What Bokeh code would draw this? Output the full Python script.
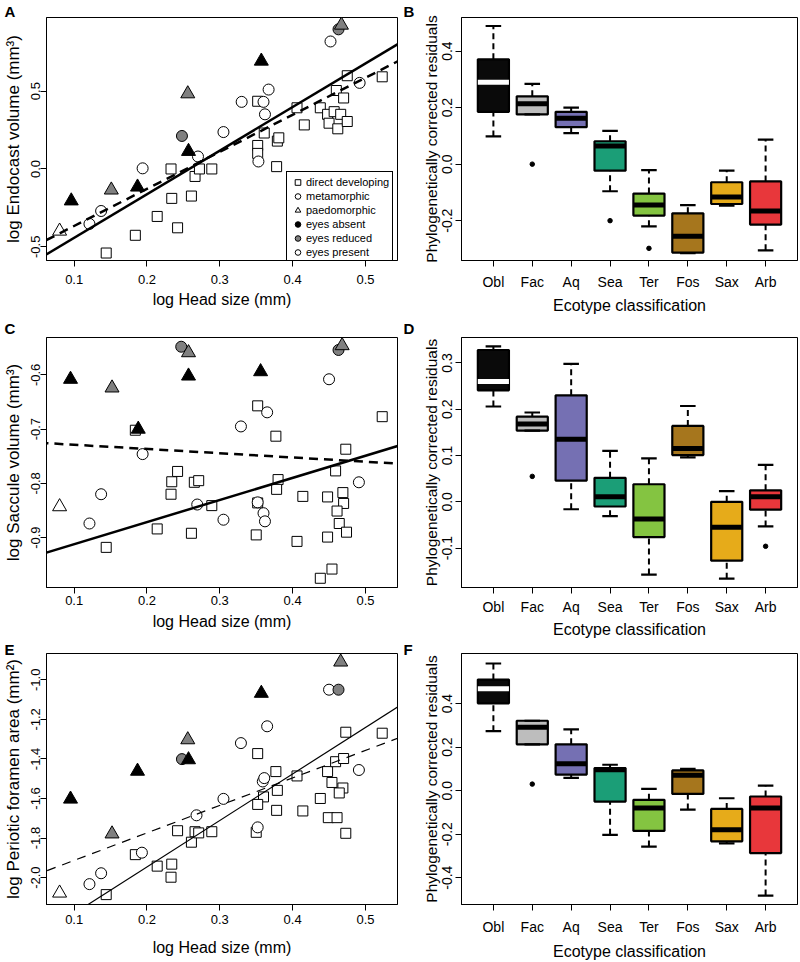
from bokeh.plotting import figure
from bokeh.models import (ColumnDataSource, Range1d, FactorRange, FixedTicker,
                          NumeralTickFormatter, Slope, Legend, LegendItem, Title)
from bokeh.layouts import column, row
from bokeh.transform import dodge
from bokeh.embed import file_html
from bokeh.resources import INLINE

FONT = "Liberation Sans"
NAN = float("nan")

# ---------------- shared head-size axis ----------------
HEAD_RANGE = (0.062, 0.544)
HEAD_TICKS = [0.1, 0.2, 0.3, 0.4, 0.5]
EYE_COLORS = {"absent": "black", "reduced": "#808080", "present": "white"}

# ---------------- Panel A: endocast volume ----------------
A_dd_x = [0.144, 0.184, 0.214, 0.234, 0.242, 0.233, 0.261, 0.266, 0.272, 0.289,
          0.352, 0.352, 0.352, 0.361, 0.379, 0.381, 0.378, 0.406, 0.416, 0.438,
          0.448, 0.457, 0.450, 0.466, 0.462, 0.475, 0.460, 0.470, 0.475, 0.523]
A_dd_y = [-0.540, -0.426, -0.305, -0.189, -0.378, 0.000, -0.174, -0.048, 0.000, 0.000,
          0.435, 0.151, 0.100, 0.231, 0.179, 0.200, 0.015, 0.393, 0.283, 0.393,
          0.351, 0.368, 0.294, 0.351, 0.258, 0.305, 0.504, 0.456, 0.599, 0.592]
A_met_x = [0.121, 0.137, 0.194, 0.270, 0.305, 0.330, 0.353, 0.360, 0.362, 0.367, 0.452, 0.492, 0.248, 0.463]
A_met_y = [-0.353, -0.270, 0.004, 0.080, 0.237, 0.431, 0.048, 0.431, 0.351, 0.510, 0.819, 0.553, 0.212, 0.897]
A_met_eye = ["present"] * 12 + ["reduced"] * 2
A_pae_x = [0.080, 0.096, 0.151, 0.187, 0.256, 0.257, 0.357, 0.467]
A_pae_y = [-0.399, -0.205, -0.135, -0.116, 0.483, 0.113, 0.693, 0.924]
A_pae_eye = ["present", "absent", "reduced", "absent", "reduced", "absent", "absent", "reduced"]
A_solid = (2.80, -0.722)
A_dashed = (2.38, -0.604)

# ---------------- Panel C: saccule volume ----------------
C_dd_x = [0.144, 0.184, 0.214, 0.233, 0.234, 0.242, 0.261, 0.265, 0.271, 0.289,
          0.352, 0.352, 0.350, 0.377, 0.380, 0.378, 0.414, 0.406, 0.459, 0.473,
          0.469, 0.470, 0.461, 0.464, 0.474, 0.448, 0.448, 0.438, 0.454, 0.523]
C_dd_y = [-0.918, -0.702, -0.884, -0.820, -0.797, -0.778, -0.892, -0.798, -0.795, -0.841,
          -0.657, -0.836, -0.895, -0.713, -0.793, -0.811, -0.824, -0.907, -0.777, -0.737,
          -0.817, -0.837, -0.851, -0.874, -0.890, -0.899, -0.825, -0.975, -0.958, -0.677]
C_met_x = [0.121, 0.137, 0.194, 0.269, 0.305, 0.329, 0.352, 0.360, 0.362, 0.365, 0.450, 0.491, 0.247, 0.463]
C_met_y = [-0.874, -0.820, -0.746, -0.839, -0.867, -0.695, -0.835, -0.855, -0.870, -0.669, -0.608, -0.798, -0.548, -0.554]
C_met_eye = ["present"] * 12 + ["reduced"] * 2
C_pae_x = [0.080, 0.095, 0.152, 0.188, 0.257, 0.257, 0.356, 0.468]
C_pae_y = [-0.843, -0.608, -0.624, -0.700, -0.559, -0.602, -0.594, -0.546]
C_pae_eye = ["present", "absent", "reduced", "absent", "reduced", "absent", "absent", "reduced"]
C_solid = (0.408, -0.953)
C_dashed = (-0.078, -0.721)

# ---------------- Panel E: periotic foramen area ----------------
E_dd_x = [0.144, 0.184, 0.214, 0.234, 0.233, 0.242, 0.261, 0.266, 0.271, 0.289,
          0.352, 0.377, 0.360, 0.352, 0.379, 0.378, 0.350, 0.406, 0.414, 0.438,
          0.448, 0.459, 0.470, 0.454, 0.469, 0.464, 0.449, 0.461, 0.473, 0.473, 0.523]
E_dd_y = [-2.086, -1.884, -1.942, -1.932, -1.998, -1.763, -1.821, -1.768, -1.774, -1.768,
          -1.373, -1.464, -1.592, -1.630, -1.559, -1.660, -1.771, -1.486, -1.663, -1.600,
          -1.464, -1.414, -1.398, -1.519, -1.547, -1.572, -1.697, -1.697, -1.776, -1.265, -1.270]
E_met_x = [0.121, 0.137, 0.193, 0.268, 0.305, 0.329, 0.352, 0.359, 0.361, 0.365, 0.450, 0.491, 0.248, 0.463]
E_met_y = [-2.033, -1.978, -1.874, -1.685, -1.602, -1.320, -1.746, -1.514, -1.497, -1.235, -1.050, -1.456, -1.401, -1.050]
E_met_eye = ["present"] * 12 + ["reduced"] * 2
E_pae_x = [0.080, 0.095, 0.152, 0.187, 0.256, 0.257, 0.357, 0.466]
E_pae_y = [-2.078, -1.603, -1.779, -1.462, -1.303, -1.404, -1.068, -0.910]
E_pae_eye = ["present", "absent", "reduced", "absent", "reduced", "absent", "absent", "reduced"]
E_solid = (2.35, -2.416)
E_dashed = (1.39, -2.052)

# ---------------- Box plots ----------------
ECOTYPES = ["Obl", "Fac", "Aq", "Sea", "Ter", "Fos", "Sax", "Arb"]
ECO_COLORS = ["#0a0a0a", "#bdbdbd", "#7570b3", "#1b9e77", "#84c441", "#a6761d", "#e6ab1a", "#e8373b"]
MEDIAN_COLORS = ["white"] + ["black"] * 7

B_low = [0.098, 0.176, 0.110, -0.096, -0.220, -0.315, -0.147, -0.305]
B_q1 = [0.185, 0.176, 0.131, -0.023, -0.182, -0.313, -0.141, -0.214]
B_med = [0.290, 0.214, 0.162, 0.064, -0.145, -0.255, -0.116, -0.166]
B_q3 = [0.371, 0.240, 0.185, 0.081, -0.104, -0.174, -0.064, -0.061]
B_high = [0.489, 0.284, 0.200, 0.118, -0.021, -0.145, -0.023, 0.087]
B_out_cat = ["Fac", "Sea", "Ter"]
B_out_val = [0.000, -0.200, -0.298]

D_low = [0.206, 0.154, -0.016, -0.031, -0.157, 0.096, -0.166, -0.053]
D_q1 = [0.241, 0.154, 0.046, -0.010, -0.076, 0.101, -0.127, -0.017]
D_med = [0.260, 0.168, 0.135, 0.011, -0.037, 0.115, -0.055, 0.011]
D_q3 = [0.328, 0.184, 0.230, 0.052, 0.038, 0.164, 0.000, 0.025]
D_high = [0.336, 0.193, 0.298, 0.110, 0.094, 0.207, 0.023, 0.080]
D_out_cat = ["Fac", "Arb"]
D_out_val = [0.055, -0.096]

F_low = [0.273, 0.213, 0.059, -0.203, -0.257, -0.087, -0.242, -0.482]
F_q1 = [0.401, 0.213, 0.074, -0.050, -0.185, -0.015, -0.233, -0.287]
F_med = [0.468, 0.291, 0.123, 0.096, -0.080, 0.071, -0.180, -0.080]
F_q3 = [0.510, 0.321, 0.213, 0.104, -0.042, 0.093, -0.084, -0.027]
F_high = [0.584, 0.321, 0.281, 0.119, 0.008, 0.100, -0.035, 0.023]
F_out_cat = ["Fac"]
F_out_val = [0.030]


def style(p, xt_size, yt_size, xl_size, yl_size, x_sd, xl_sd, y_sd, yl_sd):
    p.xgrid.visible = False
    p.ygrid.visible = False
    p.outline_line_color = "black"
    p.outline_line_alpha = 1.0
    p.outline_line_width = 1
    p.background_fill_color = "white"
    p.border_fill_color = "white"
    for ax in p.axis:
        ax.axis_line_color = "black"
        ax.major_tick_line_color = "black"
        ax.minor_tick_line_color = None
        ax.major_tick_in = 0
        ax.major_tick_out = 6
        ax.major_label_text_font = FONT
        ax.axis_label_text_font = FONT
        ax.axis_label_text_font_style = "normal"
        ax.axis_label_text_color = "black"
        ax.major_label_text_color = "black"
    p.xaxis.major_label_text_font_size = xt_size
    p.yaxis.major_label_text_font_size = yt_size
    p.xaxis.axis_label_text_font_size = xl_size
    p.yaxis.axis_label_text_font_size = yl_size
    p.xaxis.major_label_standoff = x_sd
    p.xaxis.axis_label_standoff = xl_sd
    p.yaxis.major_label_standoff = y_sd
    p.yaxis.axis_label_standoff = yl_sd
    p.yaxis.major_label_orientation = "vertical"


def set_letter(p, letter, offset, standoff):
    p.title = Title(text=letter, align="left", offset=offset, standoff=standoff,
                    vertical_align="bottom", text_font=FONT, text_font_size="15px",
                    text_font_style="bold", text_color="black")


def scatter_panel(H, top, bottom, yr, yt, ylab, dd_x, dd_y, met_x, met_y, met_eye,
                  pae_x, pae_y, pae_eye, solid, dashed, lw, dash, letter, letter_sd,
                  x_sd, xl_sd, legend=False):
    p = figure(width=400, height=H, x_range=Range1d(*HEAD_RANGE), y_range=Range1d(*yr),
               output_backend="svg", toolbar_location=None,
               min_border_left=45, min_border_right=3, min_border_top=top,
               min_border_bottom=bottom)
    set_letter(p, letter, -42, letter_sd)
    p.xaxis.axis_label = "log Head size (mm)"
    p.yaxis.axis_label = ylab
    p.xaxis.ticker = FixedTicker(ticks=HEAD_TICKS)
    p.yaxis.ticker = FixedTicker(ticks=yt)
    p.xaxis.formatter = NumeralTickFormatter(format="0.0")
    p.yaxis.formatter = NumeralTickFormatter(format="0.0")
    style(p, "13px", "13px", "16px", "17px", x_sd, xl_sd, 0, 6)

    p.add_layout(Slope(gradient=solid[0], y_intercept=solid[1], line_color="black",
                       line_width=lw))
    p.add_layout(Slope(gradient=dashed[0], y_intercept=dashed[1], line_color="black",
                       line_width=lw, line_dash=dash))

    p.scatter(x=dd_x, y=dd_y, marker="square", size=10, fill_color="white",
              line_color="black", line_width=1)
    msrc = ColumnDataSource(dict(x=met_x, y=met_y, fc=[EYE_COLORS[e] for e in met_eye]))
    p.scatter(x="x", y="y", source=msrc, marker="circle", size=11, fill_color="fc",
              line_color="black", line_width=1)
    psrc = ColumnDataSource(dict(x=pae_x, y=pae_y, fc=[EYE_COLORS[e] for e in pae_eye]))
    p.scatter(x="x", y="y", source=psrc, marker="triangle", size=14, fill_color="fc",
              line_color="black", line_width=1)

    if legend:
        shapes = [("direct developing", "square", "white"),
                  ("metamorphic", "circle", "white"),
                  ("paedomorphic", "triangle", "white"),
                  ("eyes absent", "circle", EYE_COLORS["absent"]),
                  ("eyes reduced", "circle", EYE_COLORS["reduced"]),
                  ("eyes present", "circle", EYE_COLORS["present"])]
        items = []
        for lab, mk, fc in shapes:
            r = p.scatter(x=[NAN], y=[NAN], marker=mk, size=10, fill_color=fc,
                          line_color="black", line_width=1)
            items.append(LegendItem(label=lab, renderers=[r]))
        leg = Legend(items=items, location=(240, -3), label_text_font=FONT,
                     label_text_font_size="11px", label_text_color="black",
                     glyph_width=15, glyph_height=14, label_height=14,
                     label_standoff=1, padding=3, spacing=0, margin=0,
                     border_line_color="black", border_line_width=1,
                     border_line_alpha=1.0, background_fill_color="white",
                     background_fill_alpha=1.0)
        p.add_layout(leg)
    return p


def box_panel(H, top, bottom, yr, yt, low, q1, med, q3, high, out_cat, out_val, letter,
              letter_sd, x_sd, xl_sd):
    p = figure(width=400, height=H, x_range=FactorRange(factors=ECOTYPES, range_padding=0.08),
               y_range=Range1d(*yr), output_backend="svg", toolbar_location=None,
               min_border_left=61, min_border_right=3, min_border_top=top,
               min_border_bottom=bottom)
    set_letter(p, letter, -58, letter_sd)
    p.xaxis.axis_label = "Ecotype classification"
    p.yaxis.axis_label = "Phylogenetically corrected residuals"
    p.yaxis.ticker = FixedTicker(ticks=yt)
    p.yaxis.formatter = NumeralTickFormatter(format="0.0")
    style(p, "14px", "14px", "16px", "15.5px", x_sd, xl_sd, 3, 0)

    src = ColumnDataSource(dict(cat=ECOTYPES, low=low, q1=q1, med=med, q3=q3, high=high,
                                color=ECO_COLORS, mc=MEDIAN_COLORS))
    p.segment(x0="cat", y0="q3", x1="cat", y1="high", source=src, line_color="black",
              line_width=2, line_dash="6 4")
    p.segment(x0="cat", y0="low", x1="cat", y1="q1", source=src, line_color="black",
              line_width=2, line_dash="6 4")
    p.vbar(x="cat", width=0.8, bottom="q1", top="q3", source=src, fill_color="color",
           line_color="black", line_width=2.2)
    p.segment(x0=dodge("cat", -0.4, range=p.x_range), y0="med",
              x1=dodge("cat", 0.4, range=p.x_range), y1="med", source=src,
              line_color="mc", line_width=5)
    for col in ("high", "low"):
        p.segment(x0=dodge("cat", -0.2, range=p.x_range), y0=col,
                  x1=dodge("cat", 0.2, range=p.x_range), y1=col, source=src,
                  line_color="black", line_width=2.2)
    p.scatter(x=out_cat, y=out_val, marker="circle", size=4.5, color="black")
    return p


# row 1: 316 px, row 2: 324 px, row 3: 322 px (total 962)
pA = scatter_panel(316, 17, 51, (-0.588, 0.973), [-0.5, 0.0, 0.5], "log Endocast volume (mm³)",
                   A_dd_x, A_dd_y, A_met_x, A_met_y, A_met_eye, A_pae_x, A_pae_y, A_pae_eye,
                   A_solid, A_dashed, 2.5, "9 6", "A", -4, 8, 4, legend=True)
pB = box_panel(316, 17, 51, (-0.341, 0.519), [-0.2, 0.0, 0.2, 0.4],
               B_low, B_q1, B_med, B_q3, B_high, B_out_cat, B_out_val, "B", -4, 7, 4)
pC = scatter_panel(324, 21, 48, (-0.992, -0.531), [-0.9, -0.8, -0.7, -0.6],
                   "log Saccule volume (mm³)",
                   C_dd_x, C_dd_y, C_met_x, C_met_y, C_met_eye, C_pae_x, C_pae_y, C_pae_eye,
                   C_solid, C_dashed, 2.5, "9 6", "C", 2, 2, 5)
pD = box_panel(324, 21, 48, (-0.185, 0.355), [-0.1, 0.0, 0.1, 0.2, 0.3],
               D_low, D_q1, D_med, D_q3, D_high, D_out_cat, D_out_val, "D", 2, 5, 3)
pE = scatter_panel(322, 13, 54, (-2.136, -0.867), [-2.0, -1.8, -1.6, -1.4, -1.2, -1.0],
                   "log Periotic foramen area (mm²)",
                   E_dd_x, E_dd_y, E_met_x, E_met_y, E_met_eye, E_pae_x, E_pae_y, E_pae_eye,
                   E_solid, E_dashed, 1.2, "9 7", "E", -8, 4, 12)
pF = box_panel(322, 13, 54, (-0.523, 0.630), [-0.4, -0.2, 0.0, 0.2, 0.4],
               F_low, F_q1, F_med, F_q3, F_high, F_out_cat, F_out_val, "F", -8, 8, 5)

layout = column(row(pA, pB), row(pC, pD), row(pE, pF))

with open("out.html", "w") as f:
    f.write(file_html(layout, INLINE))
